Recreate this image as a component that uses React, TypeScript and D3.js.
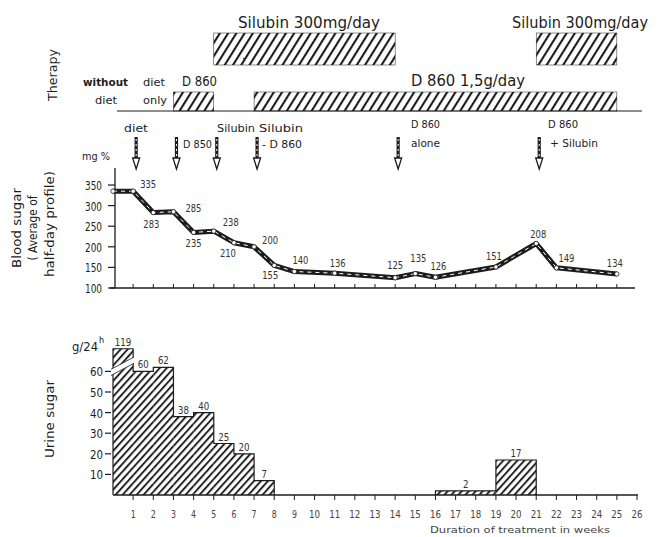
import React from "react";
import * as d3 from "d3";

// ---- data ----
const weekTicks = d3.range(1, 27);
const bsWeeks = [0, 1, 2, 3, 4, 5, 6, 7, 8, 9, 11, 14, 15, 16, 19, 21, 22, 25];
const bsValues = [335, 335, 283, 285, 235, 238, 210, 200, 155, 140, 136, 125, 135, 126, 151, 208, 149, 134];
const bsTicks = [100, 150, 200, 250, 300, 350];
const urStart = [0, 1, 2, 3, 4, 5, 6, 7, 16, 19];
const urEnd = [1, 2, 3, 4, 5, 6, 7, 8, 19, 21];
const urValues = [119, 60, 62, 38, 40, 25, 20, 7, 2, 17];
const urTicks = [10, 20, 30, 40, 50, 60];
const urBreak = 71;
const silubinStart = [5, 21];
const silubinEnd = [14, 25];
const d860Start = [3, 7];
const d860End = [5, 25];
const arrowWeeks = [1, 3, 5, 7, 14, 21];

// label placement (center dx, baseline dy) for blood sugar values
const bsLabelOffsets: [number, number][] = [
  [0, 0], [15, -3], [-2, 15], [20, 0], [0, 15], [17, -5], [-6, 14], [16, -3], [-4, 14],
  [6, -8], [3, -6], [0, -9], [3, -12], [3, -7], [-2, -7], [2, -6], [10, -6], [-2, -7],
];

const FONT = "'DejaVu Sans Condensed','Liberation Sans Narrow','Roboto Condensed','DejaVu Sans',sans-serif";
const INK = "#1c1c1c";

export default function App() {
  const x = d3.scaleLinear().domain([0, 26]).range([113, 637]);
  const yB = d3.scaleLinear().domain([100, 350]).range([288, 185]);
  const yU = d3.scaleLinear().domain([0, 60]).range([495, 371.4]);

  const line = d3.line<number>().x((_, i) => x(bsWeeks[i])).y((v) => yB(v));
  const bsPath = line(bsValues) || "";

  // urine envelope outline (contiguous groups)
  let envelope = "";
  urStart.forEach((s, i) => {
    const top = yU(Math.min(urValues[i], urBreak));
    const contiguous = i > 0 && urEnd[i - 1] === s;
    if (!contiguous) envelope += `M${x(s)},${yU(0)}L${x(s)},${top}`;
    else envelope += `L${x(s)},${top}`;
    envelope += `L${x(urEnd[i])},${top}`;
    const nextContig = i < urStart.length - 1 && urStart[i + 1] === urEnd[i];
    if (!nextContig) envelope += `L${x(urEnd[i])},${yU(0)}`;
  });

  const T = (props: any) => (
    <text fontFamily={FONT} fill={INK} {...props} />
  );

  return (
    <svg width={657} height={537} style={{ position: "absolute", left: 0, top: 0, background: "#fff" }}>
      <defs>
        <pattern id="hatchT" patternUnits="userSpaceOnUse" width={7} height={7} patternTransform="rotate(32)">
          <line x1={1} y1={0} x2={1} y2={7} stroke={INK} strokeWidth={2.2} />
        </pattern>
        <pattern id="hatchU" patternUnits="userSpaceOnUse" width={5.2} height={5.2} patternTransform="rotate(42)">
          <line x1={1} y1={0} x2={1} y2={5.2} stroke={INK} strokeWidth={1.9} />
        </pattern>
      </defs>

      {/* ---- Therapy ---- */}
      <T x={0} y={0} fontSize={12} textAnchor="middle" transform="translate(57,75) rotate(-90)" textLength={52} lengthAdjust="spacingAndGlyphs">Therapy</T>
      {silubinStart.map((s, i) => (
        <rect key={"s" + i} x={x(s)} y={33} width={x(silubinEnd[i]) - x(s)} height={32} fill="url(#hatchT)" stroke={INK} strokeWidth={0.5} />
      ))}
      <T x={309} y={28} fontSize={15} textAnchor="middle" textLength={142} lengthAdjust="spacingAndGlyphs">Silubin 300mg/day</T>
      <T x={580} y={28} fontSize={15} textAnchor="middle" textLength={136} lengthAdjust="spacingAndGlyphs">Silubin 300mg/day</T>
      {d860Start.map((s, i) => (
        <rect key={"d" + i} x={x(s)} y={92} width={x(d860End[i]) - x(s)} height={19} fill="url(#hatchT)" stroke={INK} strokeWidth={0.5} />
      ))}
      <line x1={117} x2={642} y1={111} y2={111} stroke={INK} strokeWidth={1.2} />
      <T x={182} y={86} fontSize={14} textLength={35} lengthAdjust="spacingAndGlyphs">D 860</T>
      <T x={411} y={86} fontSize={15} textLength={114} lengthAdjust="spacingAndGlyphs">D 860  1,5g/day</T>
      <T x={83} y={86} fontSize={11} fontWeight="bold" textLength={45} lengthAdjust="spacingAndGlyphs">without</T>
      <T x={95} y={104} fontSize={11} textLength={22} lengthAdjust="spacingAndGlyphs">diet</T>
      <T x={143} y={86} fontSize={11} textLength={22} lengthAdjust="spacingAndGlyphs">diet</T>
      <T x={143} y={104} fontSize={11} textLength={24} lengthAdjust="spacingAndGlyphs">only</T>

      {/* ---- arrows ---- */}
      {arrowWeeks.map((w, i) => {
        const ax = x(w) + 3;
        return (
          <g key={"a" + i}>
            <line x1={ax} x2={ax} y1={137} y2={159} stroke={INK} strokeWidth={3.2} />
            <line x1={ax} x2={ax} y1={139} y2={158} stroke="#fff" strokeWidth={1} strokeDasharray="2 3" />
            <path d={`M${ax - 3.5},158 L${ax + 3.5},158 L${ax},169 Z`} fill="#fff" stroke={INK} strokeWidth={1.3} />
          </g>
        );
      })}
      <T x={124} y={132} fontSize={11} textLength={24} lengthAdjust="spacingAndGlyphs">diet</T>
      <T x={183} y={148} fontSize={10} textLength={29} lengthAdjust="spacingAndGlyphs">D 850</T>
      <T x={217} y={132} fontSize={11} textLength={38} lengthAdjust="spacingAndGlyphs">Silubin</T>
      <T x={259} y={132} fontSize={11} textLength={44} lengthAdjust="spacingAndGlyphs">Silubin</T>
      <T x={262} y={148} fontSize={10} textLength={40} lengthAdjust="spacingAndGlyphs">- D 860</T>
      <T x={411} y={128} fontSize={10} textLength={29} lengthAdjust="spacingAndGlyphs">D 860</T>
      <T x={411} y={147} fontSize={10} textLength={29} lengthAdjust="spacingAndGlyphs">alone</T>
      <T x={548} y={128} fontSize={10} textLength={30} lengthAdjust="spacingAndGlyphs">D 860</T>
      <T x={550} y={147} fontSize={10} textLength={48} lengthAdjust="spacingAndGlyphs">+ Silubin</T>

      {/* ---- Blood sugar ---- */}
      <T x={0} y={0} fontSize={12} textAnchor="middle" transform="translate(21,228) rotate(-90)" textLength={80} lengthAdjust="spacingAndGlyphs">Blood sugar</T>
      <T x={0} y={0} fontSize={12} textAnchor="middle" transform="translate(37,228) rotate(-90)" textLength={65} lengthAdjust="spacingAndGlyphs">( Average of</T>
      <T x={0} y={0} fontSize={12} textAnchor="middle" transform="translate(54,224) rotate(-90)" textLength={106} lengthAdjust="spacingAndGlyphs">half-day profile)</T>
      <T x={82} y={160} fontSize={11} textLength={28} lengthAdjust="spacingAndGlyphs">mg %</T>
      <line x1={115} x2={115} y1={168} y2={288} stroke={INK} strokeWidth={1.3} />
      <line x1={110} x2={635} y1={288} y2={288} stroke={INK} strokeWidth={1.3} />
      {bsTicks.map((t) => (
        <g key={"bt" + t}>
          <line x1={108} x2={115} y1={yB(t)} y2={yB(t)} stroke={INK} strokeWidth={1.2} />
          <T x={102} y={yB(t) + 5} fontSize={13} textAnchor="end" textLength={17} lengthAdjust="spacingAndGlyphs">{t}</T>
        </g>
      ))}
      {weekTicks.filter((w) => w <= 25).map((w) => (
        <line key={"bx" + w} x1={x(w)} x2={x(w)} y1={284} y2={288} stroke={INK} strokeWidth={1} />
      ))}
      <path d={bsPath} fill="none" stroke={INK} strokeWidth={5} strokeLinejoin="round" />
      <path d={bsPath} fill="none" stroke="#fff" strokeWidth={1} strokeDasharray="4 4" strokeLinejoin="round" />
      {bsValues.map((v, i) => (
        <circle key={"c" + i} cx={x(bsWeeks[i])} cy={yB(v)} r={2.2} fill="#fff" stroke={INK} strokeWidth={0.8} />
      ))}
      {bsValues.map((v, i) =>
        i === 0 ? null : (
          <T key={"bl" + i} x={x(bsWeeks[i]) + bsLabelOffsets[i][0]} y={yB(v) + bsLabelOffsets[i][1]} fontSize={10} textAnchor="middle" fill="#333" textLength={16} lengthAdjust="spacingAndGlyphs">
            {v}
          </T>
        )
      )}

      {/* ---- Urine sugar ---- */}
      <T x={0} y={0} fontSize={13} textAnchor="middle" transform="translate(54,419) rotate(-90)" textLength={78} lengthAdjust="spacingAndGlyphs">Urine sugar</T>
      <T x={72} y={351} fontSize={12} textLength={26} lengthAdjust="spacingAndGlyphs">g/24</T>
      <T x={99} y={343} fontSize={9}>h</T>
      {urStart.map((s, i) => {
        const v = Math.min(urValues[i], urBreak);
        return (
          <rect key={"u" + i} x={x(s)} y={yU(v)} width={x(urEnd[i]) - x(s)} height={yU(0) - yU(v)} fill="url(#hatchU)" />
        );
      })}
      <path d={envelope} fill="none" stroke={INK} strokeWidth={1.2} />
      {/* axis break on first bar */}
      <path d={`M${x(0) - 2},${yU(58)} L${x(1) + 1},${yU(64)} L${x(1) + 1},${yU(67)} L${x(0) - 2},${yU(61)} Z`} fill="#fff" />
      <line x1={x(0) - 2} y1={yU(58)} x2={x(1) + 1} y2={yU(64)} stroke={INK} strokeWidth={0.8} />
      <line x1={x(0) - 2} y1={yU(61)} x2={x(1) + 1} y2={yU(67)} stroke={INK} strokeWidth={0.8} />
      {urStart.map((s, i) => {
        const v = Math.min(urValues[i], urBreak);
        return (
          <T key={"ul" + i} x={(x(s) + x(urEnd[i])) / 2} y={yU(v) - 3} fontSize={10} textAnchor="middle" fill="#333" textLength={String(urValues[i]).length * 5.5} lengthAdjust="spacingAndGlyphs">
            {urValues[i]}
          </T>
        );
      })}
      {urTicks.map((t) => (
        <g key={"ut" + t}>
          <line x1={105} x2={111} y1={yU(t)} y2={yU(t)} stroke={INK} strokeWidth={1.2} />
          <T x={103} y={yU(t) + 5} fontSize={13} textAnchor="end" textLength={t >= 10 ? 13 : 7} lengthAdjust="spacingAndGlyphs">{t}</T>
        </g>
      ))}
      <line x1={113} x2={638} y1={yU(0)} y2={yU(0)} stroke={INK} strokeWidth={1.6} />
      {weekTicks.map((w) => (
        <g key={"ux" + w}>
          <line x1={x(w)} x2={x(w)} y1={yU(0)} y2={yU(0) + 5} stroke={INK} strokeWidth={1} />
          <T x={x(w)} y={518} fontSize={10} textAnchor="middle" fill="#444" textLength={w >= 10 ? 11 : 5} lengthAdjust="spacingAndGlyphs">{w}</T>
        </g>
      ))}
      <T x={520} y={533} fontSize={9} textAnchor="middle" fill="#444" textLength={180} lengthAdjust="spacingAndGlyphs">Duration of treatment in weeks</T>
    </svg>
  );
}
